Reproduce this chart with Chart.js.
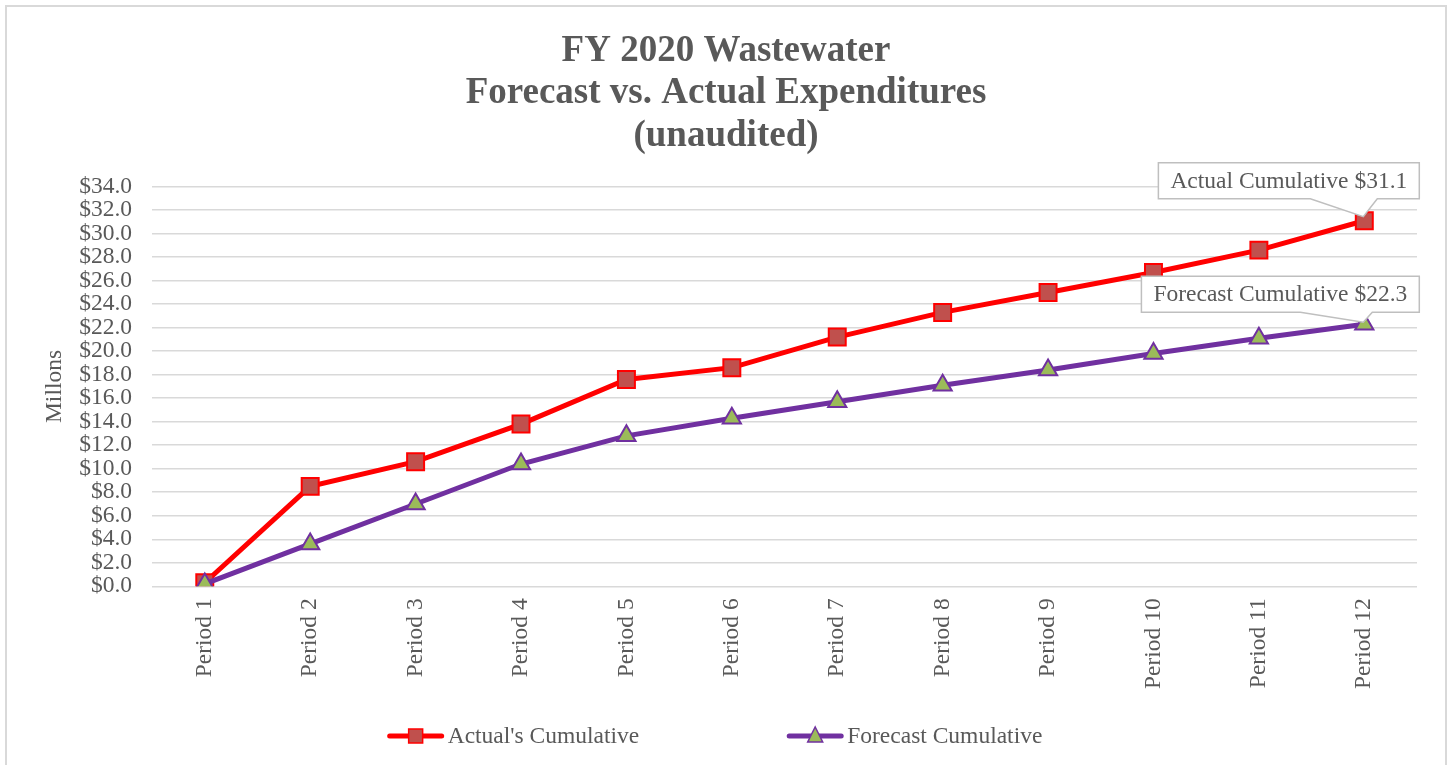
<!DOCTYPE html>
<html>
<head>
<meta charset="utf-8">
<title>FY 2020 Wastewater</title>
<script src="https://cdn.jsdelivr.net/npm/chart.js@4/dist/chart.umd.min.js"></script>
<style>
    html, body { margin: 0; padding: 0; background: #fff; }
    #wrap { width: 1452px; height: 765px; }
</style>
</head>
<body>
<div id="wrap"><canvas id="chart" width="1452" height="765"></canvas></div>
<script>
const titleLines = ['FY 2020 Wastewater', 'Forecast vs. Actual Expenditures', '(unaudited)'];
const periods = ['Period 1', 'Period 2', 'Period 3', 'Period 4', 'Period 5', 'Period 6',
    'Period 7', 'Period 8', 'Period 9', 'Period 10', 'Period 11', 'Period 12'];
const actualCumulative = [0.3, 8.5, 10.6, 13.8, 17.6, 18.6, 21.2, 23.3, 25.0, 26.7, 28.6, 31.1];
const forecastCumulative = [0.2, 3.6, 7.0, 10.4, 12.8, 14.3, 15.7, 17.1, 18.4, 19.8, 21.1, 22.3];
const seriesNames = ["Actual's Cumulative", 'Forecast Cumulative'];
const calloutNames = ['Actual Cumulative', 'Forecast Cumulative'];
const yMin = 0, yMax = 34, yStep = 2;

const FONT = '"Liberation Serif", "Times New Roman", serif';
const TEXT = '#595959';
const SIZE = 23.5;

// white background and the thin chart-area frame
const framePlugin = {
    id: 'frame',
    beforeDraw(chart) {
        const ctx = chart.ctx;
        ctx.save();
        ctx.fillStyle = '#fff';
        ctx.fillRect(0, 0, chart.width, chart.height);
        ctx.strokeStyle = '#d9d9d9';
        ctx.lineWidth = 2;
        ctx.strokeRect(6, 6, chart.width - 12, chart.height + 20);
        ctx.restore();
    }
};

// callouts on the last point of each series
const calloutPlugin = {
    id: 'callouts',
    afterDraw(chart) {
        const ctx = chart.ctx;
        const setups = [
            { ds: 0, lift: 22, apex: 4, tailL: 54, tailR: 13 },
            { ds: 1, lift: 12, apex: 2, tailL: 64, tailR: 8 }
        ];
        ctx.save();
        ctx.font = SIZE + 'px ' + FONT;
        setups.forEach(s => {
            const meta = chart.getDatasetMeta(s.ds);
            const pt = meta.data[meta.data.length - 1];
            const values = chart.data.datasets[s.ds].data;
            const label = calloutNames[s.ds] + ' $' + values[values.length - 1].toFixed(1);
            const w = ctx.measureText(label).width + 24;
            const h = 36;
            const right = pt.x + 55;
            const left = right - w;
            const bottom = pt.y - s.lift;
            const top = bottom - h;

            ctx.beginPath();
            ctx.moveTo(left, top);
            ctx.lineTo(right, top);
            ctx.lineTo(right, bottom);
            ctx.lineTo(pt.x + s.tailR, bottom);
            ctx.lineTo(pt.x - 1, pt.y - s.apex);
            ctx.lineTo(pt.x - s.tailL, bottom);
            ctx.lineTo(left, bottom);
            ctx.closePath();
            ctx.fillStyle = '#fff';
            ctx.fill();
            ctx.strokeStyle = '#bfbfbf';
            ctx.lineWidth = 1.5;
            ctx.stroke();

            ctx.fillStyle = TEXT;
            ctx.textAlign = 'center';
            ctx.textBaseline = 'middle';
            ctx.fillText(label, (left + right) / 2, (top + bottom) / 2 + 1);
        });
        ctx.restore();
    }
};

// legend with line + marker symbols, like the spreadsheet one
const legendPlugin = {
    id: 'lineLegend',
    afterDraw(chart) {
        const ctx = chart.ctx;
        const y = 736;
        const symW = 52, gap = 6, itemGap = 150;
        ctx.save();
        ctx.font = SIZE + 'px ' + FONT;
        const widths = seriesNames.map(n => ctx.measureText(n).width);
        const total = widths.reduce((a, w) => a + symW + gap + w, 0) + itemGap * (seriesNames.length - 1);
        let x = chart.width / 2 - 10 - total / 2;
        chart.data.datasets.forEach((ds, i) => {
            ctx.beginPath();
            ctx.moveTo(x, y);
            ctx.lineTo(x + symW, y);
            ctx.strokeStyle = ds.borderColor;
            ctx.lineWidth = 5;
            ctx.lineCap = 'round';
            ctx.stroke();
            ctx.lineCap = 'butt';
            ctx.fillStyle = ds.pointBackgroundColor;
            ctx.strokeStyle = ds.pointBorderColor;
            ctx.lineWidth = 1.5;
            const cx = x + symW / 2;
            ctx.beginPath();
            if (ds.pointStyle === 'rect') {
                ctx.rect(cx - 7, y - 7, 14, 14);
            } else {
                ctx.moveTo(cx, y - 9);
                ctx.lineTo(cx + 7.5, y + 6);
                ctx.lineTo(cx - 7.5, y + 6);
                ctx.closePath();
            }
            ctx.fill();
            ctx.stroke();

            ctx.fillStyle = TEXT;
            ctx.textAlign = 'left';
            ctx.textBaseline = 'middle';
            ctx.fillText(seriesNames[i], x + symW + gap, y + 1);
            x += symW + gap + widths[i] + itemGap;
        });
        ctx.restore();
    }
};

const ctx = document.getElementById('chart').getContext('2d');
const chart = new Chart(ctx, {
    type: 'line',
    data: {
        labels: periods,
        datasets: [{
            label: seriesNames[0],
            data: actualCumulative,
            borderColor: '#ff0000',
            borderWidth: 5,
            pointStyle: 'rect',
            pointRadius: 12,
            pointBackgroundColor: '#c0504d',
            pointBorderColor: '#ff0000',
            pointBorderWidth: 2,
            tension: 0,
            order: 2
        }, {
            label: seriesNames[1],
            data: forecastCumulative,
            borderColor: '#7030a0',
            borderWidth: 5,
            pointStyle: 'triangle',
            pointRadius: 10.5,
            pointBackgroundColor: '#9bbb59',
            pointBorderColor: '#7030a0',
            pointBorderWidth: 2,
            tension: 0,
            order: 1
        }]
    },
    options: {
        responsive: false,
        animation: false,
        devicePixelRatio: 1,
        layout: {
            padding: { left: 35, right: 35, top: 0, bottom: 72 }
        },
        plugins: {
            legend: { display: false },
            tooltip: { enabled: false },
            title: {
                display: true,
                text: titleLines,
                color: TEXT,
                font: { family: FONT, size: 37, weight: 'bold', lineHeight: 1.15 },
                padding: { top: 30, bottom: 29 }
            }
        },
        scales: {
            x: {
                offset: true,
                grid: { display: false },
                border: { display: false },
                ticks: {
                    autoSkip: false,
                    minRotation: 90,
                    maxRotation: 90,
                    padding: 4,
                    color: TEXT,
                    font: { family: FONT, size: SIZE }
                }
            },
            y: {
                min: yMin,
                max: yMax,
                border: { display: false },
                grid: { color: '#d9d9d9', lineWidth: 1.5, drawTicks: false },
                ticks: {
                    stepSize: yStep,
                    autoSkip: false,
                    padding: 20,
                    color: TEXT,
                    font: { family: FONT, size: SIZE, lineHeight: 0.9 },
                    callback: v => '$' + Number(v).toFixed(1)
                },
                title: {
                    display: true,
                    text: 'Millons',
                    color: TEXT,
                    font: { family: FONT, size: SIZE },
                    padding: { top: 6, bottom: -10 }
                }
            }
        }
    },
    plugins: [framePlugin, calloutPlugin, legendPlugin]
});
</script>
</body>
</html>
